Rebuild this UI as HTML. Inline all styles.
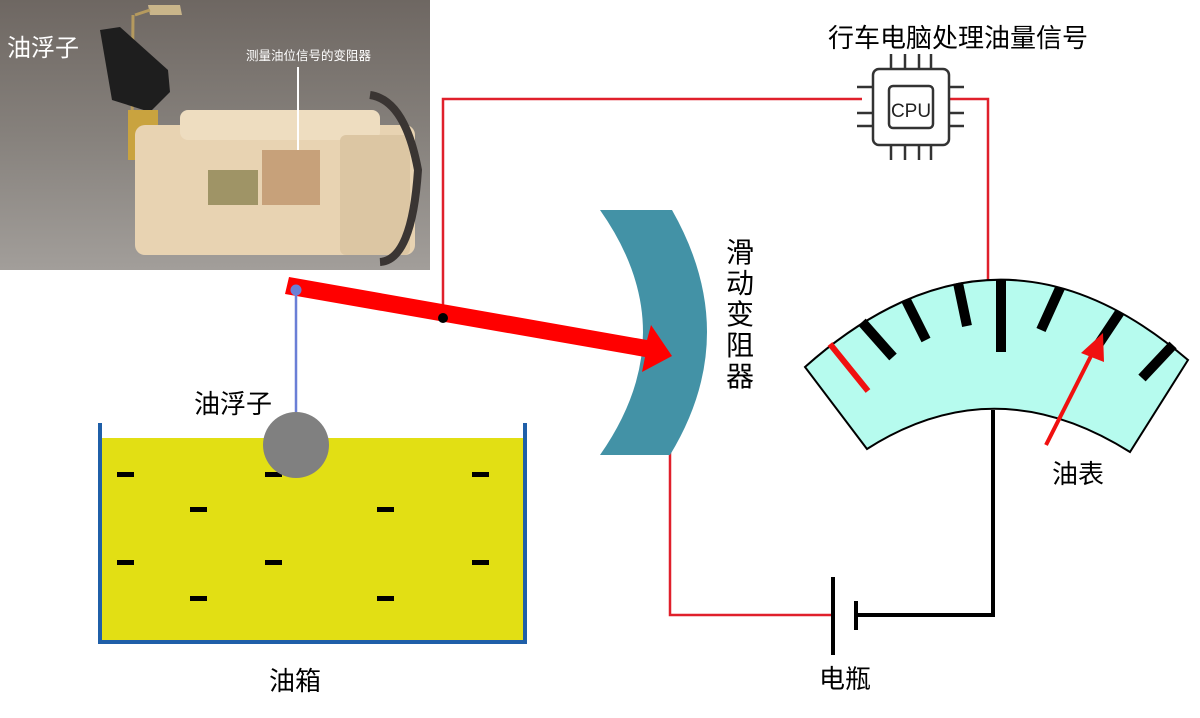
<!DOCTYPE html>
<html><head><meta charset="utf-8"><style>
html,body{margin:0;padding:0;background:#fff}
svg text{font-family:"Liberation Sans","Noto Sans CJK SC",sans-serif}
</style></head><body>
<svg width="1200" height="713" viewBox="0 0 1200 713" xmlns="http://www.w3.org/2000/svg">
<defs>
<linearGradient id="bg" x1="0" y1="0" x2="0" y2="1">
<stop offset="0" stop-color="#6e6762"/><stop offset="0.5" stop-color="#86817c"/><stop offset="1" stop-color="#a29e9a"/>
</linearGradient>
</defs>
<!-- photo -->
<rect x="0" y="0" width="430" height="270" fill="url(#bg)"/>
<path d="M148 5 L180 5 L182 15 L150 15 Z" fill="#c9b58a"/>
<path d="M135 15 L150 10 M133 15 L132 130" stroke="#b59a5e" stroke-width="3" fill="none"/>
<path d="M100 30 L120 27 L168 70 L170 92 L150 112 L112 100 Z" fill="#1e1e1e"/>
<rect x="128" y="110" width="30" height="50" fill="#c9a33f"/>
<rect x="135" y="125" width="280" height="130" rx="10" fill="#e8d3b2"/>
<rect x="180" y="110" width="200" height="30" rx="8" fill="#eeddc0"/>
<rect x="208" y="170" width="50" height="35" fill="#9f9466"/>
<rect x="262" y="150" width="58" height="55" fill="#c7a17a"/>
<rect x="340" y="135" width="70" height="120" rx="6" fill="#dcc6a3"/>
<path d="M370 95 Q405 100 418 170 Q412 260 380 262" stroke="#3a3533" stroke-width="8" fill="none"/>
<line x1="298" y1="67" x2="298" y2="150" stroke="#fff" stroke-width="2"/>
<text x="7" y="56" font-size="24" fill="#fff">油浮子</text>
<text x="246" y="60" font-size="12.5" fill="#fff">测量油位信号的变阻器</text>
<!-- wires -->
<polyline points="443,318 443,99 862,99" stroke="#e0202b" stroke-width="2.5" fill="none"/>
<polyline points="950,99 988,99 988,282" stroke="#e0202b" stroke-width="2.5" fill="none"/>
<polyline points="670,452 670,615 833,615" stroke="#e0202b" stroke-width="2.5" fill="none"/>
<polyline points="856,615 993,615 993,410" stroke="#000" stroke-width="4" fill="none"/>
<!-- battery -->
<line x1="833" y1="577" x2="833" y2="655" stroke="#000" stroke-width="4"/>
<line x1="856" y1="601" x2="856" y2="630" stroke="#000" stroke-width="4"/>
<text x="845" y="688" font-size="26" text-anchor="middle">电瓶</text>
<!-- chip -->
<g stroke="#333" stroke-width="2.5" fill="none">
<rect x="873" y="69" width="76" height="76" rx="6" fill="#fff"/>
<rect x="889" y="86" width="44" height="42" rx="4"/>
<path d="M891 54v15M905 54v15M919 54v15M931 54v15M891 145v15M905 145v15M919 145v15M931 145v15M857 87h16M857 113h16M857 126h16M949 87h15M949 113h15M949 126h15"/>
</g>
<text x="911" y="117" font-size="19" text-anchor="middle" fill="#222" font-family="Liberation Sans Narrow,Liberation Sans,sans-serif">CPU</text>
<text x="958" y="47" font-size="26" text-anchor="middle">行车电脑处理油量信号</text>
<!-- slider -->
<path d="M600 210 L672 210 Q743 335 670 455 L600 455 Q686 332 600 210 Z" fill="#4392a6"/>
<text font-size="28" x="740" y="262" text-anchor="middle">滑</text>
<text font-size="28" x="740" y="293" text-anchor="middle">动</text>
<text font-size="28" x="740" y="324" text-anchor="middle">变</text>
<text font-size="28" x="740" y="355" text-anchor="middle">阻</text>
<text font-size="28" x="740" y="386" text-anchor="middle">器</text>
<!-- lever -->
<polygon points="289,277 647,340 651,325 672,356 642,372 645,357 285,294" fill="#ff0000"/>
<circle cx="443" cy="318" r="5" fill="#000"/>
<line x1="296" y1="290" x2="296" y2="413" stroke="#6a7fd6" stroke-width="2.5"/>
<circle cx="296" cy="290" r="5.5" fill="#6a7fd6"/>
<!-- tank -->
<rect x="100" y="438" width="425" height="204" fill="#e2df14"/>
<path d="M100 423 V642 H525 V423" stroke="#1f5fa8" stroke-width="4" fill="none"/>
<g fill="#000">
<rect x="117" y="472" width="17" height="5"/><rect x="265" y="472" width="17" height="5"/><rect x="472" y="472" width="17" height="5"/>
<rect x="190" y="507" width="17" height="5"/><rect x="377" y="507" width="17" height="5"/>
<rect x="117" y="560" width="17" height="5"/><rect x="265" y="560" width="17" height="5"/><rect x="472" y="560" width="17" height="5"/>
<rect x="190" y="596" width="17" height="5"/><rect x="377" y="596" width="17" height="5"/>
</g>
<circle cx="296" cy="445" r="33" fill="#808080"/>
<text x="233" y="413" font-size="26" text-anchor="middle">油浮子</text>
<text x="295" y="690" font-size="26" text-anchor="middle">油箱</text>
<!-- gauge -->
<path d="M805 367 Q997 196 1188 360 L1130 452 Q995 367 867 449 Z" fill="#b6fbee" stroke="#000" stroke-width="2"/>
<g stroke="#000" stroke-width="10">
<line x1="862" y1="322" x2="893" y2="357"/>
<line x1="906" y1="300" x2="926" y2="340"/>
<line x1="958" y1="283" x2="967" y2="326"/>
<line x1="1001" y1="280" x2="1001" y2="352"/>
<line x1="1060" y1="288" x2="1041" y2="330"/>
<line x1="1120" y1="312" x2="1096" y2="348"/>
<line x1="1173" y1="345" x2="1142" y2="378"/>
</g>
<line x1="830" y1="344" x2="868" y2="391" stroke="#f01010" stroke-width="6"/>
<line x1="1046" y1="445" x2="1093" y2="352" stroke="#f01010" stroke-width="4"/>
<polygon points="1103,333 1104,362 1081,353" fill="#f01010"/>
<text x="1078" y="483" font-size="26" text-anchor="middle">油表</text>
</svg>
</body></html>
